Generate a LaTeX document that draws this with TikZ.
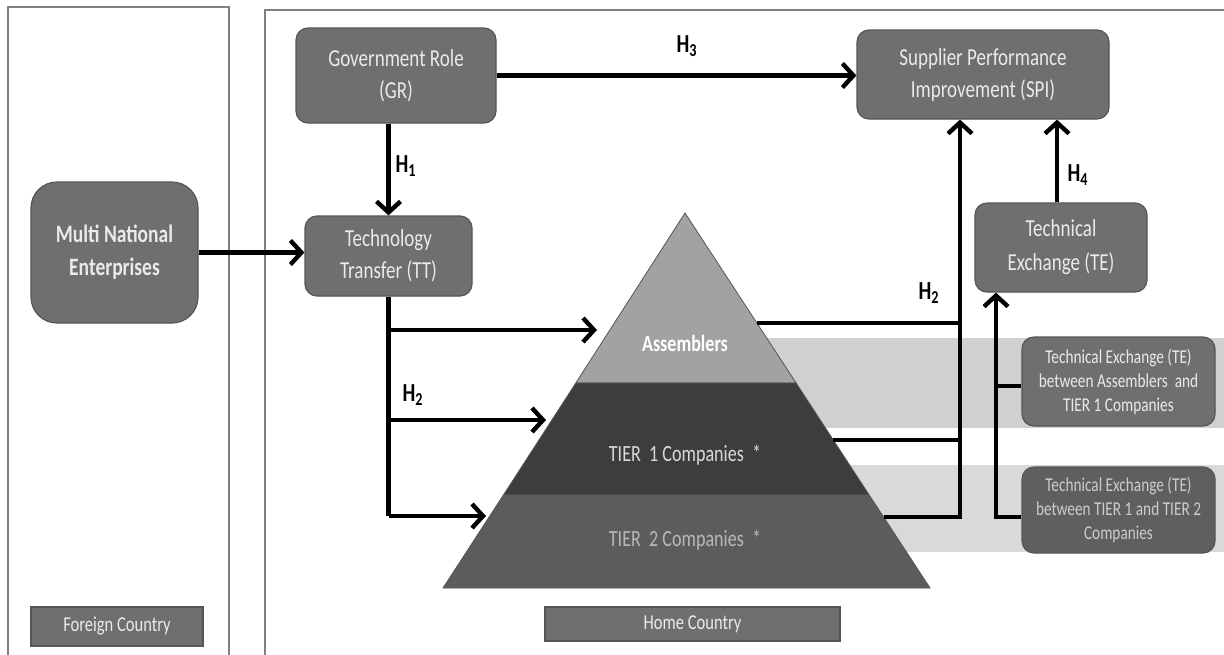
\documentclass[tikz,border=0pt]{standalone}
\usepackage{fontspec}
\setmainfont{Carlito}[FakeStretch=0.78]
\usetikzlibrary{arrows.meta,calc}
\definecolor{boxgray}{HTML}{6F6F6F}
\definecolor{boxedge}{HTML}{555555}
\definecolor{boxtext}{HTML}{EAEAEA}
\definecolor{panelline}{HTML}{808080}
\definecolor{asmgray}{HTML}{A2A2A2}
\definecolor{tieronegray}{HTML}{3D3D3D}
\definecolor{tiertwogray}{HTML}{5C5C5C}
\definecolor{bandone}{HTML}{D0D0D0}
\definecolor{bandtwo}{HTML}{D9D9D9}
\definecolor{darkbox}{HTML}{5F5F5F}
\begin{document}
\begin{tikzpicture}[x=0.5pt,y=-0.5pt,
  box/.style={draw=boxedge, line width=0.6pt, fill=boxgray, rounded corners=6pt, text=boxtext,
    align=center, inner sep=0pt, font=\fontsize{12.2}{16}\selectfont},
  smallbox/.style={box, font=\fontsize{9.8}{12}\selectfont},
  label/.style={draw=boxedge, line width=0.6pt, fill=boxgray, text=boxtext, inner sep=0pt,
    font=\fontsize{10.6}{12}\selectfont},
  conn/.style={line width=2.2pt},
  arr/.style={conn, -{Straight Barb[length=5.5pt,width=12pt]}},
  hlab/.style={font=\bfseries\fontsize{13}{14}\selectfont, inner sep=0pt},
  pyrtext/.style={font=\fontsize{11.6}{13}\selectfont, inner sep=0pt}]
\useasboundingbox (0,0) rectangle (1224,654);
\fill[white] (0,0) rectangle (1224,654);

% panels
\draw[panelline, line width=0.6pt] (8,660) -- (8,7) -- (229,7) -- (229,660);
\draw[panelline, line width=0.6pt] (265,660) -- (265,10) -- (1230,10);

% bands behind pyramid
\fill[bandone] (740,338) rectangle (1224,428);
\fill[bandtwo] (850,465) rectangle (1224,552);

% pyramid
\coordinate (apex) at (685,213);
\fill[asmgray, draw=boxedge, line width=0.4pt] (apex) -- (575.8,383) -- (796.1,383) -- cycle;
\fill[tieronegray, draw=boxedge, line width=0.4pt] (575.8,383) -- (503.4,495) -- (869.2,495) -- (796.1,383) -- cycle;
\fill[tiertwogray, draw=boxedge, line width=0.4pt] (503.4,495) -- (443,588) -- (930,588) -- (869.2,495) -- cycle;
\node[pyrtext, text=white, font=\bfseries\fontsize{11.6}{13}\selectfont] (asm) at (685,343) {Assemblers};
\node[pyrtext, text=black!15] (tone) at (685,455) {TIER\ \ 1 Companies\ \ *};
\node[pyrtext, text=black!28] (ttwo) at (685,540) {TIER\ \ 2 Companies\ \ *};

% boxes
\node[box, rounded corners=13pt, minimum width=83.5pt, minimum height=70.5pt,
  font=\bfseries\fontsize{12.5}{16.5}\selectfont] (mne) at (114.5,252.5) {Multi National\\Enterprises};
\node[label, minimum width=86pt, minimum height=19.5pt] (fc) at (117,626.5) {Foreign Country};
\node[box, minimum width=100pt, minimum height=47.5pt] (gr) at (396,75.5) {Government Role\\(GR)};
\node[box, minimum width=83.5pt, minimum height=40pt] (tt) at (388.5,256) {Technology\\Transfer (TT)};
\node[box, minimum width=126pt, minimum height=44.5pt] (spi) at (983,74.5) {Supplier Performance\\Improvement (SPI)};
\node[box, minimum width=86pt, minimum height=44.5pt, font=\fontsize{12.2}{17}\selectfont] (te) at (1061,247.5) {Technical\\Exchange (TE)};
\node[smallbox, minimum width=96.5pt, minimum height=44.5pt] (tea) at (1118.5,381.5) {Technical Exchange (TE)\\between Assemblers\ \ and\\TIER 1 Companies};
\node[smallbox, fill=darkbox, text=black!20, minimum width=96.5pt, minimum height=43pt] (teb) at (1118.5,510) {Technical Exchange (TE)\\between TIER 1 and TIER 2\\Companies};
\node[label, minimum width=147.5pt, minimum height=17pt] (hc) at (692.5,624) {Home Country};

% connectors
\draw[arr] (mne.east) -- (mne.east -| tt.west);
\draw[arr] (gr.south -| tt.north) -- (tt.north);
\draw[arr] (gr.east) -- (gr.east -| spi.west);
\coordinate (tebot) at (1057,200);
\draw[arr] (te.north -| tebot) -- (tebot |- spi.south);

% left H2 bracket
\coordinate (la) at (388.5,330);
\coordinate (lb) at (388.5,420);
\coordinate (lc) at (388.5,516);
\coordinate (asmL) at (597,330);
\coordinate (toneL) at (546,420);
\coordinate (ttwoL) at (486,516);
\draw[conn] (tt.south) -- (lc);
\draw[arr] (la) -- (asmL);
\draw[arr] (lb) -- (toneL);
\draw[arr] (lc) -- (ttwoL);

% right H2 bracket
\coordinate (asmR) at (757,323);
\coordinate (toneR) at (833,440);
\coordinate (ttwoR) at (884,517);
\coordinate (rv) at (960,517);
\draw[conn] (asmR) -- (asmR -| rv);
\draw[conn] (toneR) -- (toneR -| rv);
\draw[arr] (ttwoR) -- (rv) -- (rv |- spi.south);

% TE bracket
\coordinate (ja) at (996,386);
\coordinate (jb) at (996,517);
\draw[conn] (ja) -- (ja -| tea.west);
\draw[arr] (jb -| teb.west) -- (jb) -- (jb |- te.south);

% hypothesis labels
\node[hlab] (h1) at (406,166) {H\textsubscript{1}};
\node[hlab] (h3) at (687,46) {H\textsubscript{3}};
\node[hlab] (h4) at (1078,175) {H\textsubscript{4}};
\node[hlab] (h2r) at (929,293) {H\textsubscript{2}};
\node[hlab] (h2l) at (413,395) {H\textsubscript{2}};
\end{tikzpicture}
\end{document}
